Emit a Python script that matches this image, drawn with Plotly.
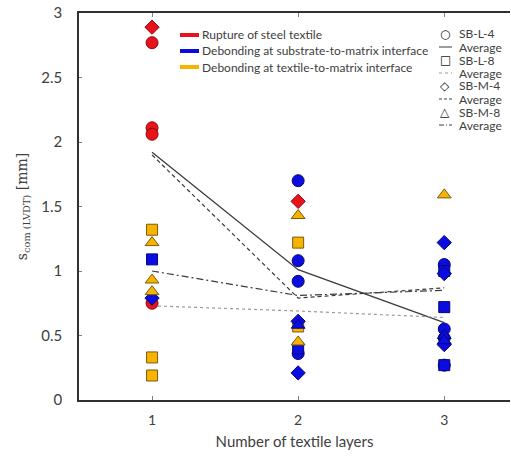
import plotly.graph_objects as go

# ---------------- data ----------------
layers = [1, 2, 3]

# SB-L-4 (circles)
L4_x = [1, 1, 1, 1, 2, 2, 2, 2, 3, 3, 3, 3]
L4_y = [2.77, 2.11, 2.06, 0.75, 1.70, 1.08, 0.92, 0.36, 1.05, 0.55, 0.48, 0.27]
L4_m = ["R", "R", "R", "R", "B", "B", "B", "B", "B", "B", "B", "B"]

# SB-L-8 (squares)
L8_x = [1, 1, 1, 1, 2, 2, 2, 3, 3, 3]
L8_y = [1.32, 1.09, 0.33, 0.19, 1.22, 0.57, 0.40, 1.00, 0.72, 0.27]
L8_m = ["Y", "B", "Y", "Y", "Y", "Y", "B", "B", "B", "B"]

# SB-M-4 (diamonds)
M4_x = [1, 1, 2, 2, 2, 3, 3, 3]
M4_y = [2.89, 0.79, 1.54, 0.61, 0.21, 1.22, 0.98, 0.43]
M4_m = ["R", "B", "R", "B", "B", "B", "B", "B"]

# SB-M-8 (triangles)
M8_x = [1, 1, 1, 2, 2, 2, 3, 3, 3]
M8_y = [1.22, 0.93, 0.84, 1.43, 0.58, 0.45, 1.59, 0.50, 0.46]
M8_m = ["Y", "Y", "Y", "Y", "B", "Y", "Y", "B", "B"]

# averages
avg_L4 = [1.92, 1.01, 0.60]
avg_L8 = [0.73, 0.69, 0.64]
avg_M4 = [1.90, 0.79, 0.87]
avg_M8 = [1.00, 0.81, 0.85]

mode_labels = ["Rupture of steel textile",
               "Debonding at substrate-to-matrix interface",
               "Debonding at textile-to-matrix interface"]
specimen_labels = ["SB-L-4", "SB-L-8", "SB-M-4", "SB-M-8"]

# ---------------- styles ----------------
FILL = {"R": "#e8121c", "B": "#0b0ce0", "Y": "#f6b400"}
EDGE = {"R": "#8a0a0a", "B": "#06067a", "Y": "#7a5a10"}
FONT = "Lato, 'Open Sans', sans-serif"
TXT = "#404040"

W, H = 511, 457
ML, MR, MT, MB = 79, 1, 13, 57


def px(xp):
    return (xp - ML) / (W - ML - MR)


def py(yp):
    return (H - MB - yp) / (H - MT - MB)


fig = go.Figure()

# average lines
line_specs = [
    (avg_L4, dict(color="#3c3c3c", width=1.3, dash="solid")),
    (avg_L8, dict(color="#9a9a9a", width=1.2, dash="dot")),
    (avg_M4, dict(color="#3c3c3c", width=1.2, dash="4px,3px")),
    (avg_M8, dict(color="#3c3c3c", width=1.2, dash="7px,3px,2px,3px")),
]
for vals, ln in line_specs:
    fig.add_trace(go.Scatter(x=layers, y=vals, mode="lines", line=ln,
                             showlegend=False, hoverinfo="skip"))

# points
point_specs = [
    (L4_x, L4_y, L4_m, "circle", 12),
    (L8_x, L8_y, L8_m, "square", 11),
    (M4_x, M4_y, M4_m, "diamond", 11),
    (M8_x, M8_y, M8_m, "triangle-up", 12),
]
for xs, ys, ms, sym, sz in point_specs:
    fig.add_trace(go.Scatter(
        x=xs, y=ys, mode="markers", showlegend=False,
        marker=dict(symbol=sym, size=sz,
                    color=[FILL[m] for m in ms],
                    line=dict(color=[EDGE[m] for m in ms], width=1))))

annotations = []
shapes = []

# failure-mode legend (top-left)
for i, (lab, key) in enumerate(zip(mode_labels, ["R", "B", "Y"])):
    yy = 35 + i * 16
    shapes.append(dict(type="line", xref="paper", yref="paper",
                       x0=px(180), x1=px(199), y0=py(yy), y1=py(yy),
                       line=dict(color=FILL[key], width=4)))
    annotations.append(dict(xref="paper", yref="paper", x=px(200), y=py(yy),
                            xanchor="left", yanchor="middle", showarrow=False,
                            text=lab, font=dict(family=FONT, size=12, color=TXT)))

# specimen legend (top-right)
symbols = ["○", "□", "◇", "△"]
dashes = ["solid", "dot", "3px,2px", "5px,2px,1px,2px"]
dcols = ["#3c3c3c", "#9a9a9a", "#3c3c3c", "#3c3c3c"]
for i, lab in enumerate(specimen_labels):
    y1 = 34 + i * 26
    y2 = y1 + 13
    annotations.append(dict(xref="paper", yref="paper", x=px(445), y=py(y1),
                            xanchor="center", yanchor="middle", showarrow=False,
                            text=symbols[i],
                            font=dict(family="DejaVu Sans", size=12, color="#202020")))
    annotations.append(dict(xref="paper", yref="paper", x=px(457), y=py(y1),
                            xanchor="left", yanchor="middle", showarrow=False,
                            text=lab, font=dict(family=FONT, size=12, color=TXT)))
    shapes.append(dict(type="line", xref="paper", yref="paper",
                       x0=px(439), x1=px(452), y0=py(y2), y1=py(y2),
                       line=dict(color=dcols[i], width=1, dash=dashes[i])))
    annotations.append(dict(xref="paper", yref="paper", x=px(457), y=py(y2),
                            xanchor="left", yanchor="middle", showarrow=False,
                            text="Average", font=dict(family=FONT, size=12, color=TXT)))

fig.update_layout(
    width=W, height=H,
    margin=dict(l=ML, r=MR, t=MT, b=MB),
    paper_bgcolor="white", plot_bgcolor="white",
    showlegend=False,
    annotations=annotations, shapes=shapes,
    xaxis=dict(range=[0.5, 3.45], tickvals=layers, ticktext=["1", "2", "3"],
               showgrid=False, zeroline=False, showline=True, linecolor="#303030",
               linewidth=1.5, mirror="ticks", ticks="inside", ticklen=4,
               tickcolor="#808080", ticklabelstandoff=6,
               tickfont=dict(family=FONT, size=14, color=TXT),
               title=dict(text="Number of textile layers", standoff=10,
                          font=dict(family=FONT, size=15, color=TXT))),
    yaxis=dict(range=[0, 3], dtick=0.5, showgrid=False, zeroline=False,
               showline=True, linecolor="#303030", linewidth=1.5,
               ticks="inside", ticklen=3, tickcolor="#808080",
               ticklabelstandoff=12,
               tickfont=dict(family=FONT, size=15, color=TXT),
               title=dict(text="s<sub>com (LVDT)</sub> [mm]", standoff=10,
                          font=dict(family="DejaVu Serif, serif", size=14, color=TXT))),
)

fig.write_html("out.html")
